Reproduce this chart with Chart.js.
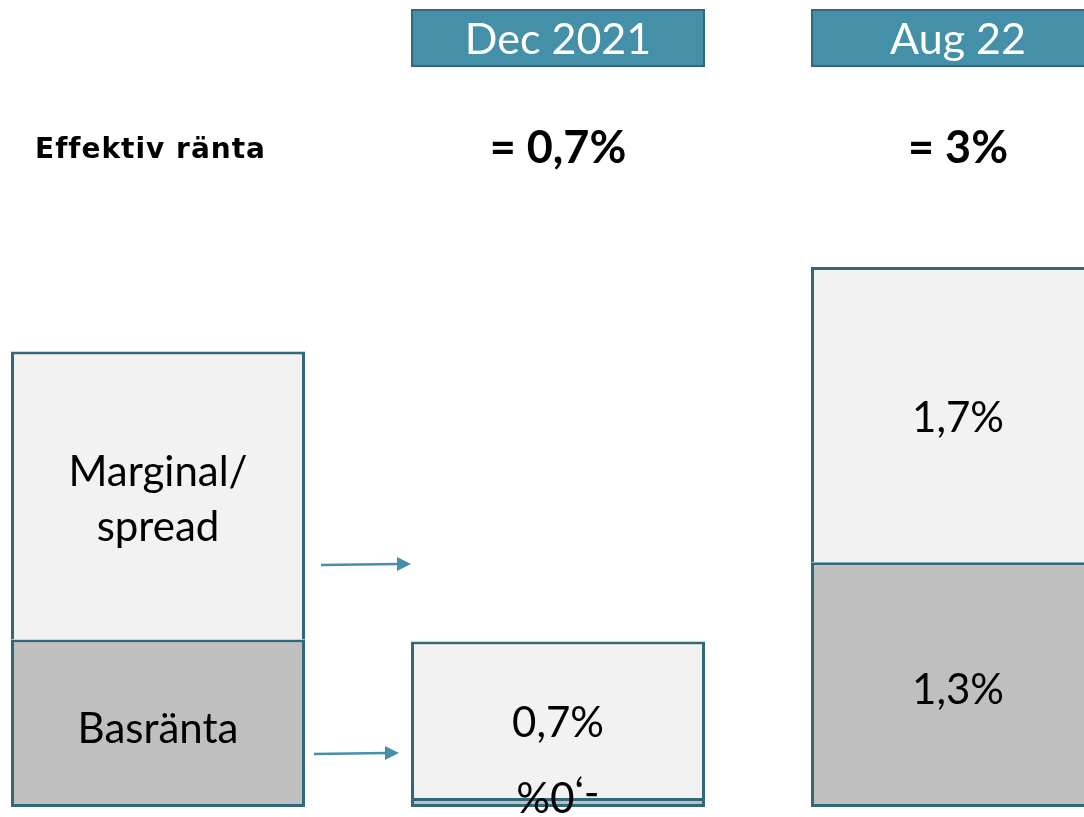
<!DOCTYPE html>
<html>
<head>
<meta charset="utf-8">
<script src="https://cdn.jsdelivr.net/npm/chart.js@4.4.1/dist/chart.umd.min.js"></script>
<style>
  html, body { margin: 0; padding: 0; background: #fff; overflow: hidden; width: 1084px; height: 817px; }
  #wrap { position: absolute; left: -42px; top: 0; width: 1200px; height: 817px; }
</style>
</head>
<body>
<div id="wrap"><canvas id="chart"></canvas></div>
<script>
// categories (first one is the explanatory bar)
const categories = ['', 'Dec 2021', 'Aug 22'];
const headers = [null, 'Dec 2021', 'Aug 22'];
const totals = [null, '= 0,7%', '= 3%'];

// bar heights as drawn (%)
const basranta = [0.93, 0.05, 1.36];
const marginal = [1.6, 0.87, 1.64];

// texts inside the bars
const basLabels = ['Basränta', '-,0%', '1,3%'];
const marginalLabels = [['Marginal/', 'spread'], ['0,7%'], ['1,7%']];

const arrowLevels = [1.35, 0.3];

const teal = '#4590A9';
const darkTeal = '#31687A';
const font = 'Lato, "Open Sans", sans-serif';

const overlay = {
  id: 'overlay',
  afterDatasetsDraw(chart) {
    const ctx = chart.ctx;
    const y = chart.scales.y;
    const bas = chart.getDatasetMeta(0).data;
    const mar = chart.getDatasetMeta(1).data;
    ctx.save();
    ctx.textAlign = 'center';
    ctx.textBaseline = 'middle';
    ctx.fillStyle = '#000';

    // labels in bars
    ctx.font = '42px ' + font;
    mar.forEach((b, i) => {
      const lines = marginalLabels[i];
      const cy = (b.y + b.base) / 2 + 4;
      lines.forEach((t, k) => {
        ctx.fillText(t, b.x, cy + (k - (lines.length - 1) / 2) * 55);
      });
    });
    bas.forEach((b, i) => {
      const cy = (b.y + b.base) / 2 + 6;
      if (i === 1) {
        // upside-down label on the thin strip
        ctx.save();
        ctx.translate(b.x, cy - 13);
        ctx.rotate(Math.PI);
        ctx.font = '42px ' + font;
        ctx.fillText(basLabels[i], 0, 0);
        ctx.restore();
      } else {
        ctx.fillText(basLabels[i], b.x, cy);
      }
    });

    // header boxes and totals
    mar.forEach((b, i) => {
      if (!headers[i]) return;
      const w = b.width;
      ctx.fillStyle = teal;
      ctx.fillRect(b.x - w / 2, 9, w, 58);
      ctx.strokeStyle = darkTeal;
      ctx.lineWidth = 2;
      ctx.strokeRect(b.x - w / 2 + 1, 10, w - 2, 56);
      ctx.fillStyle = '#fff';
      ctx.font = '43px ' + font;
      ctx.fillText(headers[i], b.x, 40);
      ctx.fillStyle = '#000';
      ctx.font = 'bold 45px ' + font;
      ctx.fillText(totals[i], b.x, 148);
    });
    ctx.textAlign = 'left';
    ctx.font = 'bold 28px "DejaVu Sans", sans-serif';
    ctx.letterSpacing = '1px';
    ctx.fillText('Effektiv ränta', 77, 151);
    ctx.letterSpacing = '0px';

    // arrows
    ctx.strokeStyle = teal;
    ctx.fillStyle = teal;
    ctx.lineWidth = 2.5;
    const x0 = mar[0].x + mar[0].width / 2;
    const x1 = mar[1].x - mar[1].width / 2;
    arrowLevels.forEach((lv, k) => {
      const py = y.getPixelForValue(lv);
      const sx = x0 + (k === 0 ? 16 : 9);
      const ex = x1 - (k === 0 ? 0 : 12);
      ctx.beginPath();
      ctx.moveTo(sx, py + 1);
      ctx.lineTo(ex - 12, py);
      ctx.stroke();
      ctx.beginPath();
      ctx.moveTo(ex, py);
      ctx.lineTo(ex - 14, py - 7);
      ctx.lineTo(ex - 14, py + 7);
      ctx.closePath();
      ctx.fill();
    });
    ctx.restore();
  }
};

new Chart(document.getElementById('chart').getContext('2d'), {
  type: 'bar',
  data: {
    labels: categories,
    datasets: [
      {
        label: 'Basränta',
        data: basranta,
        backgroundColor: '#BFBFBF',
        borderColor: darkTeal,
        borderWidth: 3,
        borderSkipped: false
      },
      {
        label: 'Marginal/spread',
        data: marginal,
        backgroundColor: '#F2F2F2',
        borderColor: darkTeal,
        borderWidth: { top: 3, left: 3, right: 3, bottom: 0 },
        borderSkipped: false
      }
    ]
  },
  options: {
    responsive: true,
    maintainAspectRatio: false,
    animation: false,
    layout: { padding: { top: 15, bottom: 10, left: 0, right: 0 } },
    datasets: { bar: { barPercentage: 0.735, categoryPercentage: 1 } },
    plugins: { legend: { display: false }, tooltip: { enabled: false } },
    scales: {
      x: { stacked: true, display: false },
      y: { stacked: true, display: false, min: 0, max: 4.4 }
    }
  },
  plugins: [overlay]
});
</script>
</body>
</html>
